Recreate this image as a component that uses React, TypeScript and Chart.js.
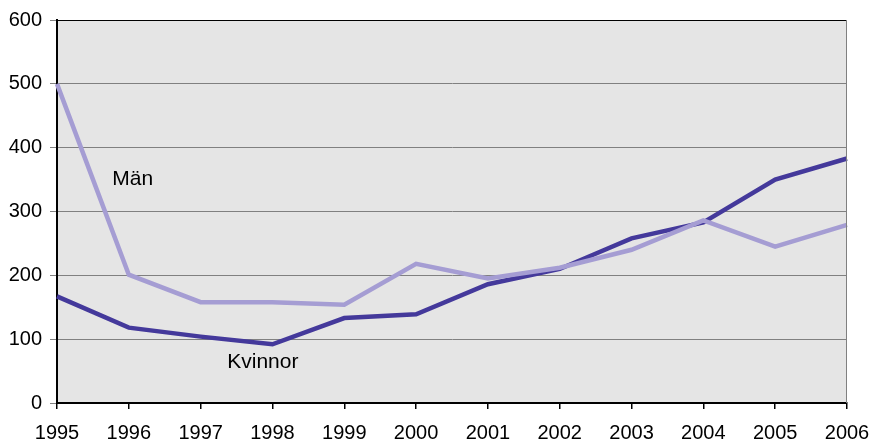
import React, { useEffect, useRef } from "react";
import { Chart, registerables } from "chart.js";

Chart.register(...registerables);

const years = ["1995", "1996", "1997", "1998", "1999", "2000", "2001", "2002", "2003", "2004", "2005", "2006"];
const man = [500, 201, 158, 158, 154, 218, 195, 212, 240, 286, 245, 279];
const kvinnor = [167, 118, 104, 92, 133, 139, 186, 210, 258, 283, 350, 383];
const yTicks = [0, 100, 200, 300, 400, 500, 600];

const seriesLabels = [
  { text: "Män", xIndex: 0.77, yValue: 350 },
  { text: "Kvinnor", xIndex: 2.37, yValue: 64 },
];

const FONT = "'Liberation Sans', Arial, sans-serif";

const framePlugin = {
  id: "frame",
  beforeDraw(chart: any) {
    const { ctx, chartArea } = chart;
    ctx.save();
    ctx.fillStyle = "#ffffff";
    ctx.fillRect(0, 0, chart.width, chart.height);
    ctx.fillStyle = "#e5e5e5";
    ctx.fillRect(chartArea.left, chartArea.top, chartArea.right - chartArea.left, chartArea.bottom - chartArea.top);
    ctx.restore();
  },
  afterDraw(chart: any) {
    const { ctx, chartArea, scales } = chart;
    ctx.save();
    ctx.strokeStyle = "#000000";
    ctx.lineWidth = 1;
    ctx.beginPath();
    ctx.moveTo(chartArea.left, chartArea.top + 0.5);
    ctx.lineTo(chartArea.right, chartArea.top + 0.5);
    ctx.stroke();
    ctx.strokeStyle = "#808080";
    ctx.beginPath();
    ctx.moveTo(chartArea.right - 0.5, chartArea.top);
    ctx.lineTo(chartArea.right - 0.5, chartArea.bottom);
    ctx.stroke();
    ctx.fillStyle = "#000000";
    ctx.font = "21px " + FONT;
    ctx.textBaseline = "middle";
    ctx.textAlign = "left";
    for (const l of seriesLabels) {
      ctx.fillText(l.text, scales.x.getPixelForValue(l.xIndex), scales.y.getPixelForValue(l.yValue));
    }
    ctx.restore();
  },
};

export default function App() {
  const ref = useRef<HTMLCanvasElement>(null);
  useEffect(() => {
    document.body.style.margin = "0";
    const chart = new Chart(ref.current!, {
      type: "line",
      data: {
        labels: years,
        datasets: [
          {
            label: "Män",
            data: man,
            borderColor: "#a59dd3",
            borderWidth: 4.5,
            pointRadius: 0,
            tension: 0,
          },
          {
            label: "Kvinnor",
            data: kvinnor,
            borderColor: "#44399b",
            borderWidth: 4.5,
            pointRadius: 0,
            tension: 0,
          },
        ],
      },
      options: {
        animation: false,
        responsive: false,
        layout: { padding: { top: 20, right: 25, left: 0, bottom: 0 } },
        plugins: { legend: { display: false }, tooltip: { enabled: false } },
        scales: {
          x: {
            offset: false,
            grid: { display: true, drawOnChartArea: false, drawTicks: true, tickLength: 6, tickColor: "#000000", lineWidth: 1.5 },
            border: { color: "#000000", width: 2 },
            ticks: { color: "#000000", font: { family: FONT, size: 20 }, padding: 12, maxRotation: 0, autoSkip: false },
            afterFit(scale: any) {
              scale.height = 40;
              scale.paddingLeft = 0;
              scale.paddingRight = 0;
            },
          },
          y: {
            min: 0,
            max: 600,
            afterBuildTicks(scale: any) {
              scale.ticks = yTicks.map((v) => ({ value: v }));
            },
            grid: { color: "#808080", lineWidth: 1, tickLength: 7, tickColor: "#808080" },
            border: { color: "#000000", width: 2 },
            ticks: { color: "#000000", font: { family: FONT, size: 20 }, padding: 8 },
            afterFit(scale: any) {
              scale.width = 57;
              scale.paddingTop = 0;
              scale.paddingBottom = 0;
            },
          },
        },
      },
      plugins: [framePlugin],
    });
    return () => chart.destroy();
  }, []);
  return (
    <div style={{ width: 872, height: 443 }}>
      <canvas ref={ref} width={872} height={443} style={{ display: "block" }} />
    </div>
  );
}
